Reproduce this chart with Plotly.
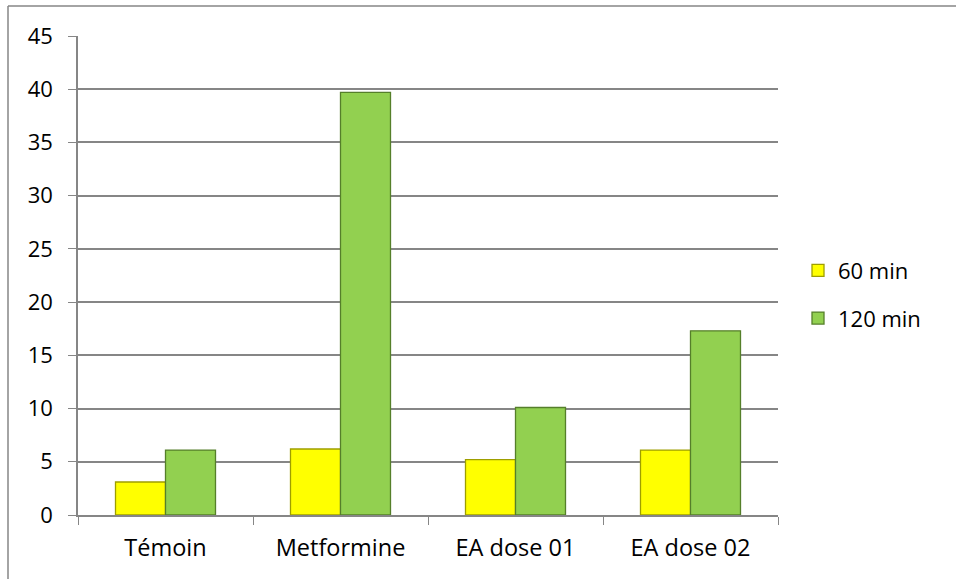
import plotly.graph_objects as go

categories = ["Témoin", "Metformine", "EA dose 01", "EA dose 02"]
series_names = ["60 min", "120 min"]
values_60 = [3.1, 6.2, 5.2, 6.1]
values_120 = [6.1, 39.7, 10.1, 17.3]
y_ticks = [0, 5, 10, 15, 20, 25, 30, 35, 40, 45]

FONT = "Open Sans, Calibri, sans-serif"

fig = go.Figure()
fig.add_trace(go.Bar(
    x=categories, y=values_60, name=series_names[0], legendgroup="a",
    marker=dict(color="#FFFF00", line=dict(color="#9E9E00", width=1.3)),
))
fig.add_trace(go.Bar(
    x=categories, y=values_120, name=series_names[1], legendgroup="b",
    marker=dict(color="#92D050", line=dict(color="#557F2A", width=1.3)),
))

fig.update_layout(
    width=956, height=579,
    margin=dict(l=78, r=178, t=36, b=64),
    paper_bgcolor="white", plot_bgcolor="white",
    barmode="group", bargap=0.4286, bargroupgap=0,
    font=dict(family=FONT, size=22, color="#000000"),
    showlegend=True,
    legend=dict(x=1 + 20/700, xanchor="left", xref="paper", y=0.46, yanchor="middle",
                font=dict(family=FONT, size=22), tracegroupgap=16,
                itemwidth=30, bgcolor="rgba(0,0,0,0)"),
    xaxis=dict(
        type="category", tickson="boundaries", ticks="outside", ticklen=8,
        tickcolor="#868686", showline=True, linecolor="#868686", linewidth=1.5,
        showgrid=False, ticklabelstandoff=11, tickfont=dict(size=23.5),
    ),
    yaxis=dict(
        range=[0, 45], tickvals=y_ticks, ticks="outside", ticklen=8,
        tickcolor="#868686", showline=True, linecolor="#868686", linewidth=1.5,
        showgrid=True, gridcolor="#868686", gridwidth=1.5, zeroline=False,
        ticklabelstandoff=11, tickfont=dict(size=22),
    ),
)

# outer chart border (top and left visible)
fig.add_shape(type="line", xref="paper", yref="paper", x0=-70/700, x1=1.3,
              y0=1 + 30/479, y1=1 + 30/479, line=dict(color="#868686", width=1.5))
fig.add_shape(type="line", xref="paper", yref="paper", x0=-70/700, x1=-70/700,
              y0=1 + 30/479, y1=-0.2, line=dict(color="#868686", width=1.5))

fig.write_html("out.html")
